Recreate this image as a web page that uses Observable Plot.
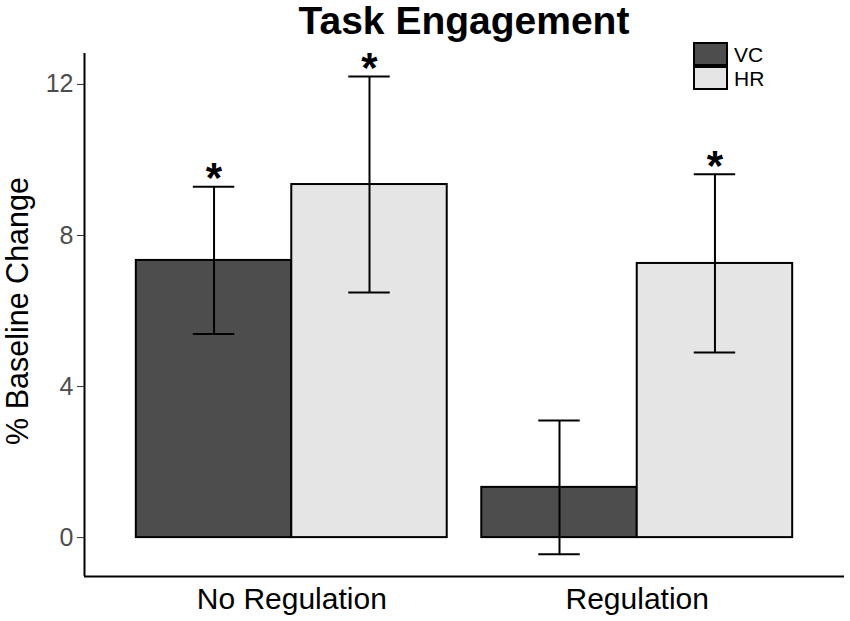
<!DOCTYPE html>
<html>
<head>
<meta charset="utf-8">
<script src="https://cdn.jsdelivr.net/npm/d3@7"></script>
<script src="https://cdn.jsdelivr.net/npm/@observablehq/plot@0.6"></script>
<style>
  body { margin: 0; background: #fff; }
  #wrap { position: relative; width: 850px; height: 621px; font-family: "Liberation Sans", Arial, sans-serif; }
  #title { position: absolute; top: 1px; left: 84px; width: 760px; text-align: center; font-weight: bold; font-size: 39px; line-height: 39px; color: #000; }
  #legend { position: absolute; left: 693px; top: 42px; }
  .row { display: flex; align-items: center; height: 24px; }
  .key { width: 35px; height: 24px; box-sizing: border-box; border: 2px solid #000; }
  .lab { margin-left: 6px; font-size: 21px; color: #000; line-height: 21px; }
</style>
</head>
<body>
<div id="wrap">
  <div id="title"></div>
  <div id="legend"></div>
</div>
<script>
const titleText = "Task Engagement";
const yLabel = "% Baseline Change";
const conditions = ["No Regulation", "Regulation"];
const groups = ["VC", "HR"];
const groupColors = ["#4d4d4d", "#e5e5e5"];
// mean % baseline change, per condition, per group [VC, HR]
const meansVC = [7.34, 1.33];
const meansHR = [9.35, 7.26];
// error (half-width of error bar)
const errVC = [1.95, 1.77];
const errHR = [2.86, 2.36];
const sigVC = [true, false];
const sigHR = [true, true];
const yTicks = [0, 4, 8, 12];
const yDomain = [-1.03, 12.82];

const dodge = 0.45;      // bar width in category units (ggplot dodge 0.9 / 2)
const capHalf = 0.06;    // error-bar cap half width in category units

const rows = [];
conditions.forEach((c, i) => {
  groups.forEach((g, j) => {
    const mean = j === 0 ? meansVC[i] : meansHR[i];
    const err = j === 0 ? errVC[i] : errHR[i];
    const sig = j === 0 ? sigVC[i] : sigHR[i];
    const xc = (i + 1) + (j - 0.5) * dodge;
    rows.push({condition: c, group: g, mean, lo: mean - err, hi: mean + err, sig,
               xc, x1: xc - dodge / 2, x2: xc + dodge / 2, c1: xc - capHalf, c2: xc + capHalf});
  });
});

document.getElementById("title").textContent = titleText;
const legend = document.getElementById("legend");
groups.forEach((g, j) => {
  const r = document.createElement("div");
  r.className = "row";
  r.innerHTML = `<div class="key" style="background:${groupColors[j]}"></div><div class="lab">${g}</div>`;
  legend.appendChild(r);
});

const chart = Plot.plot({
  width: 850,
  height: 621,
  marginLeft: 84,
  marginRight: 6,
  marginTop: 53,
  marginBottom: 45,
  style: {fontFamily: "'Liberation Sans', Arial, sans-serif", background: "transparent"},
  x: {domain: [0.4, 2.6], axis: null},
  y: {domain: yDomain, axis: null},
  color: {domain: groups, range: groupColors},
  marks: [
    Plot.rectY(rows, {x1: "x1", x2: "x2", y1: 0, y2: "mean", fill: "group", stroke: "#000", strokeWidth: 2}),
    Plot.ruleX(rows, {x: "xc", y1: "lo", y2: "hi", stroke: "#000", strokeWidth: 2}),
    Plot.ruleY(rows, {x1: "c1", x2: "c2", y: "hi", stroke: "#000", strokeWidth: 2}),
    Plot.ruleY(rows, {x1: "c1", x2: "c2", y: "lo", stroke: "#000", strokeWidth: 2}),
    Plot.text(rows.filter(d => d.sig), {x: "xc", y: "hi", text: () => "*", fontSize: 42, fontWeight: "bold", dy: -8, fill: "#000"}),
    Plot.ruleX([0.4], {y1: yDomain[0], y2: yDomain[1], stroke: "#000", strokeWidth: 2}),
    Plot.ruleY([yDomain[0]], {x1: 0.4, x2: 2.6, stroke: "#000", strokeWidth: 2}),
    Plot.axisY({ticks: yTicks, tickSize: 7, tickPadding: 4, fontSize: 25, stroke: "#333", fill: "#4d4d4d", label: null}),
    Plot.axisX({ticks: [1, 2], tickFormat: d => conditions[d - 1], tickSize: 0, tickPadding: 11, fontSize: 30, fill: "#000", label: null}),
    Plot.text([yLabel], {frameAnchor: "left", textAnchor: "middle", rotate: -90, dx: -66, dy: -4, fontSize: 30.5, fill: "#000"})
  ]
});
document.getElementById("wrap").prepend(chart);
chart.style.position = "absolute";
chart.style.left = "0";
chart.style.top = "0";
</script>
</body>
</html>
